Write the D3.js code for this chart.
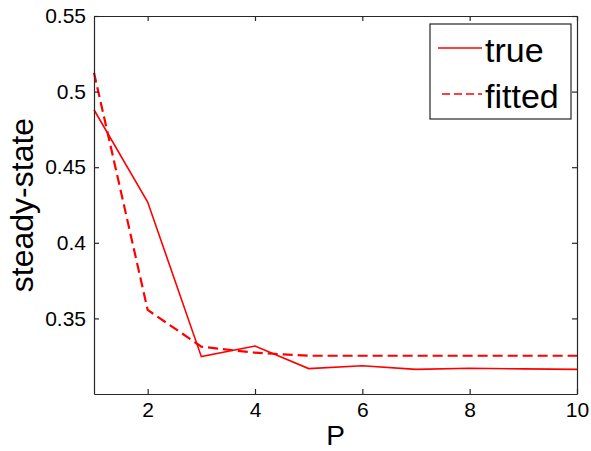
<!DOCTYPE html>
<html>
<head>
<meta charset="utf-8">
<script src="https://cdn.jsdelivr.net/npm/d3@7"></script>
<style>
  body { margin: 0; background: #fff; }
  svg { font-family: "Liberation Sans", Arial, sans-serif; }
</style>
</head>
<body>
<svg id="chart" width="591" height="451"></svg>
<script>
// values
const pValues = [1, 2, 3, 4, 5, 6, 7, 8, 9, 10];
const trueValues = [0.488, 0.427, 0.3247, 0.3317, 0.3168, 0.3187, 0.3163, 0.317, 0.3166, 0.3163];
const fittedValues = [0.5125, 0.3556, 0.3313, 0.3273, 0.3253, 0.3253, 0.3253, 0.3253, 0.3253, 0.3253];
const xTicks = [2, 4, 6, 8, 10];
const yTicks = [0.35, 0.4, 0.45, 0.5, 0.55];

const margin = { left: 94, top: 16, right: 14, bottom: 57 };
const width = 591, height = 451;

const svg = d3.select('#chart');

const x = d3.scaleLinear().domain([1, 10]).range([margin.left, width - margin.right]);
const y = d3.scaleLinear().domain([0.3, 0.55]).range([height - margin.bottom, margin.top]);

const axisColor = '#262626';
const tickLen = 5;

// lines
const line = d3.line().x((d, i) => x(pValues[i])).y(d => y(d));

svg.append('path')
    .datum(trueValues)
    .attr('d', line)
    .attr('fill', 'none')
    .attr('stroke', '#ff0000')
    .attr('stroke-width', 1.6);

svg.append('path')
    .datum(fittedValues)
    .attr('d', line)
    .attr('fill', 'none')
    .attr('stroke', '#ff0000')
    .attr('stroke-width', 2.2)
    .attr('stroke-dasharray', '10,5');

// axes (ticks inward, box on all sides)
const bottomAxis = svg.append('g')
    .attr('transform', `translate(0,${y(0.3)})`)
    .call(d3.axisBottom(x).tickValues(xTicks).tickSizeInner(-tickLen).tickSizeOuter(0).tickPadding(8));

const leftAxis = svg.append('g')
    .attr('transform', `translate(${x(1)},0)`)
    .call(d3.axisLeft(y).tickValues(yTicks).tickFormat(d3.format('')).tickSizeInner(-tickLen).tickSizeOuter(0).tickPadding(8));

const topAxis = svg.append('g')
    .attr('transform', `translate(0,${y(0.55)})`)
    .call(d3.axisTop(x).tickValues(xTicks).tickSizeInner(-tickLen).tickSizeOuter(0).tickFormat(''));

const rightAxis = svg.append('g')
    .attr('transform', `translate(${x(10)},0)`)
    .call(d3.axisRight(y).tickValues(yTicks).tickSizeInner(-tickLen).tickSizeOuter(0).tickFormat(''));

[bottomAxis, leftAxis, topAxis, rightAxis].forEach(a => {
    a.selectAll('path, line').attr('stroke', axisColor).attr('stroke-width', 1.2);
    a.selectAll('text')
        .attr('fill', '#000')
        .style('font-family', '"Liberation Sans", Arial, sans-serif')
        .style('font-size', '21px');
});

// axis labels
svg.append('text')
    .attr('x', (x(1) + x(10)) / 2)
    .attr('y', 445)
    .attr('text-anchor', 'middle')
    .style('font-size', '28px')
    .text('P');

svg.append('text')
    .attr('transform', `translate(33,${(y(0.3) + y(0.55)) / 2}) rotate(-90)`)
    .attr('text-anchor', 'middle')
    .style('font-size', '32px')
    .text('steady-state');

// legend
const legend = svg.append('g');
legend.append('rect')
    .attr('x', 430).attr('y', 24)
    .attr('width', 141).attr('height', 95)
    .attr('fill', '#fff')
    .attr('stroke', axisColor)
    .attr('stroke-width', 1.2);

const legendItems = [
    { label: 'true', dash: null, y: 48, x1: 438 },
    { label: 'fitted', dash: '8,4', y: 94, x1: 442 }
];
legendItems.forEach(item => {
    legend.append('line')
        .attr('x1', item.x1).attr('x2', 482)
        .attr('y1', item.y).attr('y2', item.y)
        .attr('stroke', '#ff0000')
        .attr('stroke-width', 1.6)
        .attr('stroke-dasharray', item.dash);
    legend.append('text')
        .attr('x', 485)
        .attr('y', item.y + 14)
        .style('font-size', '34px')
        .text(item.label);
});
</script>
</body>
</html>
